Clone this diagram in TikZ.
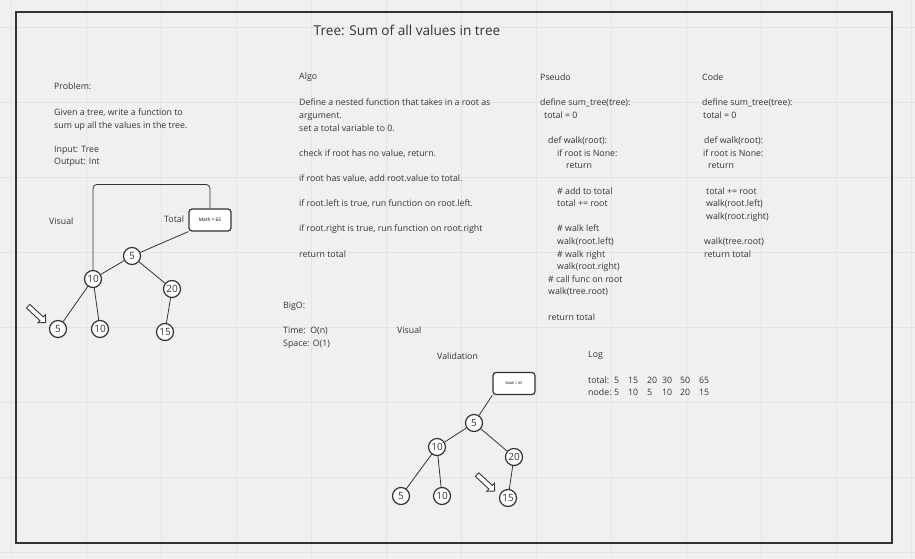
\documentclass[tikz,border=0pt]{standalone}
\usepackage{fontspec}
\setmainfont{Open Sans}
\usetikzlibrary{positioning,shapes.arrows}
\definecolor{boardbg}{HTML}{F0F0F0}
\definecolor{gridln}{HTML}{E4E4E4}
\definecolor{ink}{HTML}{333333}

\begin{document}
\begin{tikzpicture}[x=1pt, y=-1pt,
    txt/.style={anchor=west, inner sep=0pt, text=ink, font=\fontsize{8.8}{12.6}\selectfont},
    blk/.style={txt, anchor=north west, align=left},
    vnode/.style={circle, draw=ink, line width=1.2pt, fill=white, minimum size=17pt, inner sep=0pt, text=ink, font=\fontsize{10}{10}\selectfont},
    mathbox/.style={draw=ink, line width=1.2pt, rounded corners=3pt, fill=white, minimum width=42pt, minimum height=22pt, inner sep=0pt, font=\fontsize{3.6}{4}\selectfont},
    edge/.style={draw=ink, line width=0.8pt},
    pointer/.style={single arrow, draw=ink, line width=0.9pt, fill=white, minimum height=24pt, minimum width=11pt, single arrow head extend=3pt, inner sep=2pt}]
    % board
    \fill[boardbg] (0,0) rectangle (915,559);
    \useasboundingbox (0,0) rectangle (915,559);
    \foreach \gx in {11,86,...,911} \draw[gridln] (\gx,0) -- (\gx,559);
    \foreach \gy in {27,102,...,552} \draw[gridln] (0,\gy) -- (915,\gy);
    \draw[ink, line width=1.5pt] (16,12) rectangle (892,543);
    \node[text=ink, font=\fontsize{13.6}{16}\selectfont] (title) at (407,30) {Tree: Sum of all values in tree};

    % problem
    \node[txt] (problem) at (54,86) {Problem:};
    \node[blk, font=\fontsize{8.8}{12.3}\selectfont] (prompt) at (54,108.8) {Given a tree, write a function to\\
        sum up all the values in the tree.\\[12.3pt]
        Input: Tree\\
        Output: Int};

    % first visual
    \node[txt] (visualA) at (49,221) {Visual};
    \node[txt] (totalA) at (164,219) {Total};
    \node[mathbox, font=\fontsize{4.8}{5}\selectfont] (mathA) at (210,220) {Math = 65};
    \node[vnode] (rootA) at (132,256) {5};
    \node[vnode] (tenA) at (93,279) {10};
    \node[vnode] (twentyA) at (172,289) {20};
    \node[vnode] (fiveA) at (58,329) {5};
    \node[vnode] (leafA) at (100,329) {10};
    \node[vnode] (fifteenA) at (165,332) {15};
    \draw[edge] (mathA.south west) -- (rootA);
    \draw[edge] (rootA) -- (tenA);
    \draw[edge] (rootA) -- (twentyA);
    \draw[edge] (tenA) -- (fiveA);
    \draw[edge] (tenA) -- (leafA);
    \draw[edge] (twentyA) -- (fifteenA);
    \draw[edge, rounded corners=4pt] (mathA.north) -- ++(0,-24) -| (tenA);
    \node[pointer, rotate=-43] (ptrA) at (36,313.5) {};

    % algo
    \node[txt] (algo) at (299,77) {Algo};
    \node[blk] (algotext) at (299,99) {Define a nested function that takes in a root as\\
        argument.\\
        set a total variable to 0.\\[12.6pt]
        check if root has no value, return.\\[12.6pt]
        if root has value, add root.value to total.\\[12.6pt]
        if root.left is true, run function on root.left.\\[12.6pt]
        if root.right is true, run function on root.right\\[12.6pt]
        return total};

    % pseudo
    \node[txt] (pseudo) at (540,77) {Pseudo};
    \node[blk] (pseudotext) at (540,99) {define sum\_tree(tree):\\
        \hspace*{4pt}total = 0\\[12.6pt]
        \hspace*{8pt}def walk(root):\\
        \hspace*{17pt}if root is None:\\
        \hspace*{26pt}return\\[12.6pt]
        \hspace*{17pt}\# add to total\\
        \hspace*{17pt}total += root\\[12.6pt]
        \hspace*{17pt}\# walk left\\
        \hspace*{17pt}walk(root.left)\\
        \hspace*{17pt}\# walk right\\
        \hspace*{17pt}walk(root.right)\\
        \hspace*{8pt}\# call func on root\\
        \hspace*{8pt}walk(tree.root)\\[12.6pt]
        \hspace*{8pt}return total};

    % code
    \node[txt] (code) at (702,77) {Code};
    \node[blk] (codetext) at (702,99) {define sum\_tree(tree):\\
        \hspace*{1pt}total = 0\\[12.6pt]
        \hspace*{2pt}def walk(root):\\
        \hspace*{1pt}if root is None:\\
        \hspace*{6pt}return\\[12.6pt]
        \hspace*{4pt}total += root\\
        \hspace*{4pt}walk(root.left)\\
        \hspace*{4pt}walk(root.right)\\[12.6pt]
        \hspace*{2pt}walk(tree.root)\\
        \hspace*{2pt}return total};

    % big o
    \node[txt] (bigo) at (283,306) {BigO:};
    \node[txt] (time) at (283,331) {Time:\ \ O(n)};
    \node[txt] (space) at (283,344) {Space: O(1)};

    % validation
    \node[txt] (visualB) at (397,330) {Visual};
    \node[txt] (validation) at (437,356) {Validation};
    \node[mathbox] (mathB) at (514,383.5) {Math = 65};
    \node[vnode] (rootB) at (474,423) {5};
    \node[vnode] (tenB) at (437,447) {10};
    \node[vnode] (twentyB) at (514,457) {20};
    \node[vnode] (fiveB) at (401,496) {5};
    \node[vnode] (leafB) at (442,496) {10};
    \node[vnode] (fifteenB) at (508,498) {15};
    \draw[edge] (mathB.south west) -- (rootB);
    \draw[edge] (rootB) -- (tenB);
    \draw[edge] (rootB) -- (twentyB);
    \draw[edge] (tenB) -- (fiveB);
    \draw[edge] (tenB) -- (leafB);
    \draw[edge] (twentyB) -- (fifteenB);
    \node[pointer, rotate=-43] (ptrB) at (485,482) {};

    % log
    \node[txt] (log) at (588,355) {Log};
    \node[txt] (totalrow) at (588,380) {total:};
    \node[txt] (noderow) at (588,392) {node:};
    \foreach \px/\tv/\nv in {614/5/5, 628/15/10, 647/20/5, 662/30/10, 680/50/20, 699/65/15} {
        \node[txt] (tot\px) at (\px,380) {\tv};
        \node[txt] (nod\px) at (\px,392) {\nv};
    }
\end{tikzpicture}
\end{document}
